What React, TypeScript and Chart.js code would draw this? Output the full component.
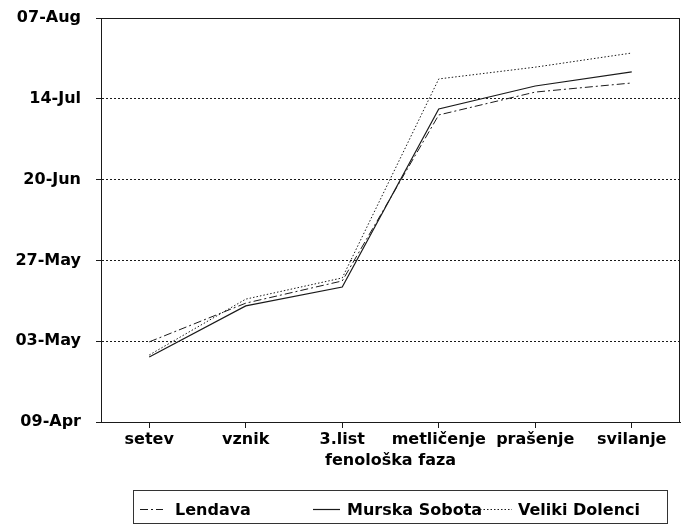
import React, { useEffect, useRef } from "react";
import { Chart, registerables } from "chart.js";

Chart.register(...registerables);

// Phenological phases (x categories)
const phases = ["setev", "vznik", "3.list", "metličenje", "prašenje", "svilanje"];

// Dates as day-of-year (99 = 09-Apr, 219 = 07-Aug)
const lendava = [122.8, 134.3, 140.9, 190.2, 197.0, 199.7];
const murskaSobota = [118.3, 133.5, 139.1, 192.0, 198.8, 203.0];
const velikiDolenci = [118.9, 135.5, 141.8, 200.9, 204.4, 208.6];

// Y axis range / ticks (day-of-year)
const yMin = 99; // 09-Apr
const yMax = 219; // 07-Aug
const yStep = 24;

const seriesNames = ["Lendava", "Murska Sobota", "Veliki Dolenci"];
const xTitle = "fenološka faza";

const MONTHS = ["Jan", "Feb", "Mar", "Apr", "May", "Jun", "Jul", "Aug", "Sep", "Oct", "Nov", "Dec"];
function dayLabel(v: number): string {
  const d = new Date(2001, 0, Math.round(v));
  const dd = String(d.getDate()).padStart(2, "0");
  return dd + "-" + MONTHS[d.getMonth()];
}

const FONT = "'DejaVu Sans', sans-serif";
const INK = "#1a1a1a";

const boxPlugin = {
  id: "boxAndLegend",
  afterDraw(chart: any) {
    const { ctx, chartArea } = chart;
    ctx.save();
    ctx.strokeStyle = INK;
    ctx.lineWidth = 1;
    ctx.setLineDash([]);
    ctx.beginPath();
    ctx.moveTo(chartArea.left, chartArea.top + 0.5);
    ctx.lineTo(chartArea.right - 0.5, chartArea.top + 0.5);
    ctx.lineTo(chartArea.right - 0.5, chartArea.bottom);
    ctx.stroke();

    // legend box
    const bx = 133, by = 490, bw = 534, bh = 33;
    ctx.strokeStyle = "#333";
    ctx.strokeRect(bx + 0.5, by + 0.5, bw, bh);

    const items = [
      { sx: 140, ex: 163, tx: 175 },
      { sx: 313, ex: 340, tx: 347 },
      { sx: 480, ex: 512, tx: 518 },
    ];
    const ly = 509.5;
    ctx.font = "bold 16px " + FONT;
    ctx.textBaseline = "alphabetic";
    ctx.fillStyle = "#000";
    chart.data.datasets.forEach((ds: any, i: number) => {
      const it = items[i];
      ctx.strokeStyle = ds.borderColor;
      ctx.lineWidth = ds.borderWidth;
      ctx.setLineDash(ds.borderDash || []);
      ctx.beginPath();
      ctx.moveTo(it.sx, ly);
      ctx.lineTo(it.ex, ly);
      ctx.stroke();
      ctx.setLineDash([]);
      ctx.fillText(ds.label, it.tx, 515);
    });
    ctx.restore();
  },
};

export default function App() {
  const ref = useRef<HTMLCanvasElement | null>(null);

  useEffect(() => {
    if (!ref.current) return;
    const chart = new Chart(ref.current, {
      type: "line",
      data: {
        labels: phases,
        datasets: [
          {
            label: seriesNames[0],
            data: lendava,
            borderColor: INK,
            borderWidth: 1,
            borderDash: [8, 3, 2, 3],
            pointRadius: 0,
            fill: false,
            tension: 0,
          },
          {
            label: seriesNames[1],
            data: murskaSobota,
            borderColor: INK,
            borderWidth: 1.2,
            borderDash: [],
            pointRadius: 0,
            fill: false,
            tension: 0,
          },
          {
            label: seriesNames[2],
            data: velikiDolenci,
            borderColor: INK,
            borderWidth: 1,
            borderDash: [1.5, 2],
            pointRadius: 0,
            fill: false,
            tension: 0,
          },
        ],
      },
      options: {
        responsive: false,
        animation: false,
        devicePixelRatio: 1,
        layout: { padding: { left: 0, top: 18, right: 1, bottom: 54 } },
        plugins: {
          legend: { display: false },
          tooltip: { enabled: false },
        },
        scales: {
          x: {
            type: "category",
            offset: true,
            afterFit: (s: any) => {
              s.height = 48;
              s.paddingLeft = 0;
              s.paddingRight = 0;
            },
            grid: {
              drawOnChartArea: false,
              drawTicks: true,
              tickLength: 6,
              color: INK,
              offset: false,
            },
            border: { display: true, color: INK, width: 1 },
            ticks: {
              color: "#000",
              font: { family: FONT, size: 16, weight: "bold" },
              padding: 2,
              maxRotation: 0,
              autoSkip: false,
            },
            title: {
              display: true,
              text: xTitle,
              color: "#000",
              font: { family: FONT, size: 16, weight: "bold" },
              padding: { top: 0, bottom: 0 },
            },
          },
          y: {
            type: "linear",
            min: yMin,
            max: yMax,
            afterFit: (s: any) => {
              s.width = 101;
              s.paddingTop = 0;
              s.paddingBottom = 0;
            },
            grid: {
              color: INK,
              lineWidth: 1,
              drawTicks: true,
              tickLength: 5,
              tickBorderDash: [],
            },
            border: { display: true, color: INK, width: 1, dash: [2, 2] },
            ticks: {
              stepSize: yStep,
              color: "#000",
              font: { family: FONT, size: 16, weight: "bold" },
              padding: 15,
              callback: (v: any) => dayLabel(Number(v)),
            },
          },
        },
      },
      plugins: [boxPlugin],
    });
    return () => chart.destroy();
  }, []);

  return (
    <div style={{ position: "absolute", left: 0, top: 0, width: 681, height: 524, background: "#fff" }}>
      <canvas ref={ref} width={681} height={524} />
    </div>
  );
}
